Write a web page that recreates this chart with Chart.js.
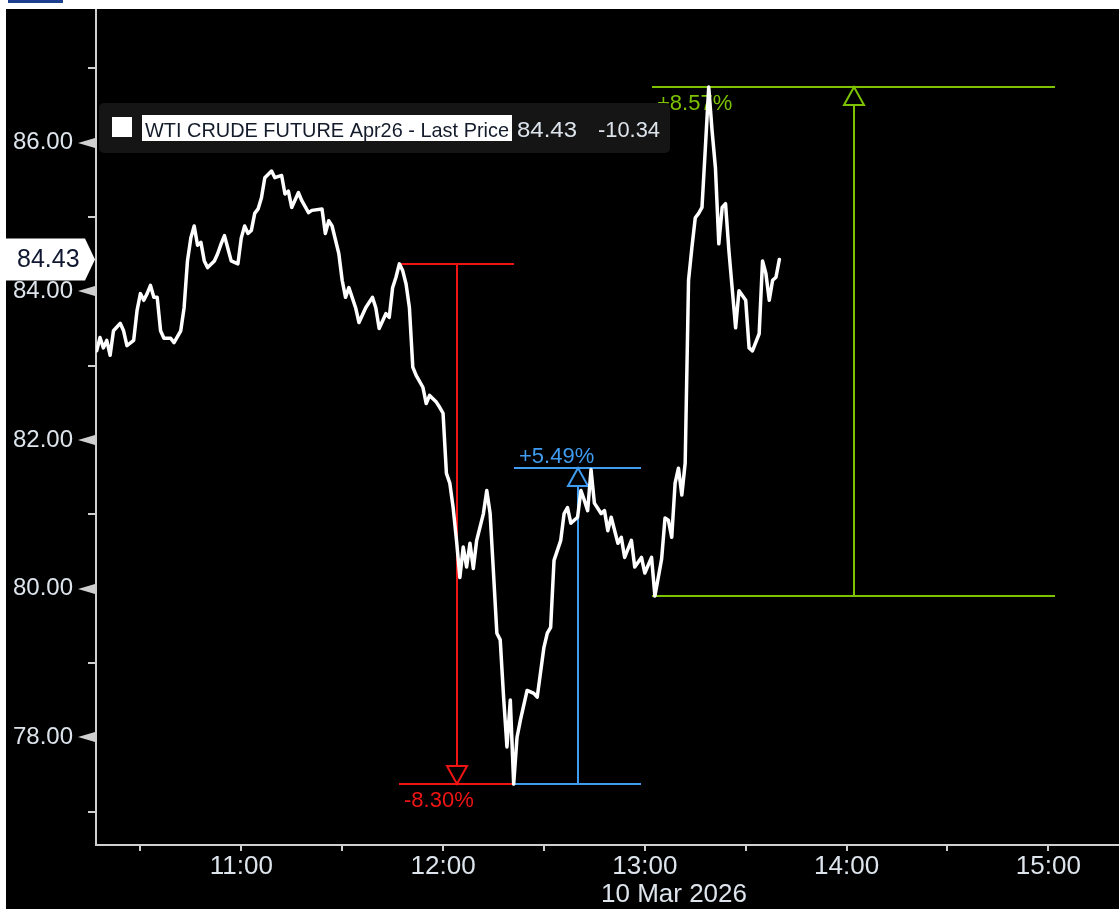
<!DOCTYPE html>
<html><head><meta charset="utf-8">
<script src="https://cdn.jsdelivr.net/npm/chart.js@4/dist/chart.umd.min.js"></script>
<style>
html,body{margin:0;padding:0;background:#ffffff;width:1119px;height:909px;overflow:hidden}
#tab{position:absolute;left:8px;top:0;width:55px;height:3px;background:#1d3f8f}
#wrap{position:absolute;left:6px;top:9px;width:1113px;height:900px;background:#000}
canvas{display:block}
</style></head><body>
<div id="tab"></div>
<div id="wrap"><canvas id="c" width="1113" height="900"></canvas></div>
<script>
// ---- data ----
const seriesName = 'WTI CRUDE FUTURE Apr26 - Last Price';
const lastPrice = 84.43;
const netChange = -10.34;
const dateLabel = '10 Mar 2026';

const times = [
'10:17','10:18','10:19','10:20','10:21','10:22','10:24','10:25','10:26','10:28','10:29','10:30','10:31','10:32','10:33','10:34','10:35','10:36','10:37','10:39','10:40','10:42','10:43','10:44','10:45','10:46','10:47','10:48','10:49','10:50','10:52','10:53','10:54','10:55','10:56','10:57','10:59',
'11:00','11:01','11:02','11:03','11:04','11:05','11:06','11:07','11:09','11:10','11:12','11:13','11:14','11:15','11:17','11:18','11:20','11:21','11:24','11:25','11:26','11:27','11:29','11:30','11:31','11:32','11:34','11:35','11:37','11:39','11:40','11:41','11:43','11:44','11:45','11:46','11:47','11:48','11:49','11:50','11:51','11:52','11:54','11:55','11:56','11:58','11:59',
'12:00','12:01','12:02','12:03','12:04','12:05','12:06','12:07','12:08','12:09','12:10','12:12','12:13','12:14','12:15','12:16','12:17','12:18','12:19','12:20','12:21','12:22','12:23','12:25','12:27','12:28','12:30','12:31','12:32','12:33','12:35','12:36','12:37','12:38','12:40','12:41','12:42','12:43','12:44','12:45','12:47','12:48','12:49','12:50','12:52','12:53','12:54','12:56','12:57','12:59',
'13:00','13:02','13:03','13:05','13:06','13:07','13:08','13:09','13:10','13:11','13:12','13:13','13:14','13:15','13:16','13:17','13:18','13:19','13:20','13:21','13:22','13:23','13:24','13:25','13:27','13:28','13:30','13:31','13:32','13:34','13:35','13:36','13:37','13:38','13:39','13:40'
];
const prices = [
83.20,83.38,83.24,83.34,83.14,83.47,83.57,83.47,83.27,83.34,83.74,83.97,83.88,83.97,84.08,83.92,83.92,83.47,83.37,83.37,83.31,83.47,83.78,84.41,84.72,84.88,84.62,84.66,84.41,84.32,84.41,84.51,84.64,84.75,84.58,84.41,84.37,
84.72,84.88,84.78,84.82,85.05,85.11,85.26,85.53,85.62,85.53,85.56,85.31,85.35,85.13,85.33,85.22,85.06,85.09,85.11,84.78,84.95,84.88,84.51,84.15,83.92,84.05,83.78,83.58,83.78,83.92,83.78,83.50,83.70,83.65,84.05,84.19,84.37,84.28,84.10,83.78,82.98,82.87,82.71,82.49,82.60,82.51,82.44,
82.36,81.55,81.42,81.09,80.65,80.15,80.56,80.29,80.61,80.27,80.65,81.01,81.32,81.01,80.21,79.40,79.31,78.54,77.87,78.50,77.37,78.00,78.23,78.63,78.59,78.54,79.21,79.40,79.48,80.38,80.65,81.01,81.09,80.88,80.96,81.32,81.19,81.05,81.60,81.15,81.01,81.05,80.78,80.96,80.61,80.69,80.42,80.65,80.29,80.42,
80.21,80.42,79.90,80.40,80.95,80.92,80.69,81.42,81.62,81.26,81.69,84.15,84.59,84.99,85.05,85.13,85.93,86.75,86.16,85.66,84.64,85.13,85.18,84.55,83.51,84.01,83.88,83.24,83.20,83.43,84.41,84.24,83.88,84.15,84.19,84.43
];

const yTickValues = [77,78,79,80,81,82,83,84,85,86,87];
const xTickTimes = ['10:30','11:00','11:30','12:00','12:30','13:00','13:30','14:00','14:30','15:00'];
const xRange = [616.8, 921.0];   // minutes after midnight
const yRange = [76.55, 87.80];

// measurement tools (start/end time, from/to price, label)
const measureLabels = ['-8.30%', '+5.49%', '+8.57%'];
const measureStart  = ['11:47', '12:21', '13:02'];
const measureEnd    = ['12:21', '12:59', '15:02'];
const measureFrom   = [84.37, 77.37, 79.90];
const measureTo     = [77.37, 81.62, 86.75];

// ---- helpers ----
const toMin = s => { const p = s.split(':').map(Number); return p[0] * 60 + p[1]; };
const fmtTime = v => Math.floor(v / 60) + ':' + String(Math.round(v % 60)).padStart(2, '0');

const FONT = '"Liberation Sans", Arial, sans-serif';
const LABEL_COLOR = '#dde4ec';
const AXIS_COLOR = '#cfcfcf';
const measureColors = ['#f01414', '#3f9cf0', '#7cc200'];
const measureLabelPos = ['below-to', 'above-to', 'below-to'];

function fitText(ctx, text, x, y, w, size, color) {
  ctx.save();
  ctx.font = size + 'px ' + FONT;
  ctx.textBaseline = 'alphabetic';
  ctx.textAlign = 'left';
  const m = ctx.measureText(text).width;
  ctx.translate(x, y);
  ctx.scale(w / m, 1);
  ctx.fillStyle = color;
  ctx.fillText(text, 0, 0);
  ctx.restore();
}

const decor = {
  id: 'decor',
  beforeDatasetsDraw(chart) {
    const ctx = chart.ctx, xs = chart.scales.x, ys = chart.scales.y;
    ctx.save();
    for (let i = 0; i < measureLabels.length; i++) {
      const col = measureColors[i];
      const x1 = Math.round(xs.getPixelForValue(toMin(measureStart[i])));
      const x2 = Math.round(xs.getPixelForValue(toMin(measureEnd[i])));
      const xm = Math.round((x1 + x2) / 2);
      const yF = Math.round(ys.getPixelForValue(measureFrom[i]));
      const yT = Math.round(ys.getPixelForValue(measureTo[i]));
      const dir = yT > yF ? 1 : -1;
      const th = 18, tw = 10;
      ctx.strokeStyle = col; ctx.lineWidth = 2;
      ctx.beginPath();
      ctx.moveTo(x1, yF); ctx.lineTo(x2, yF);
      ctx.moveTo(x1, yT); ctx.lineTo(x2, yT);
      ctx.moveTo(xm, yF); ctx.lineTo(xm, yT - dir * th);
      ctx.stroke();
      ctx.beginPath();
      ctx.moveTo(xm, yT);
      ctx.lineTo(xm - tw, yT - dir * th);
      ctx.lineTo(xm + tw, yT - dir * th);
      ctx.closePath();
      ctx.stroke();
      ctx.fillStyle = col;
      ctx.font = '22px ' + FONT;
      ctx.textAlign = 'left';
      ctx.textBaseline = 'alphabetic';
      if (measureLabelPos[i] === 'above-to') {
        ctx.fillText(measureLabels[i], x1 + 5, yT - 5);
      } else {
        ctx.fillText(measureLabels[i], x1 + 5, yT + 23);
      }
    }
    ctx.restore();
  },
  afterDraw(chart) {
    const ctx = chart.ctx, ys = chart.scales.y;
    const axX = chart.chartArea.left;
    ctx.save();
    // y-axis tick marks: arrows at labelled values, short lines in between
    ys.ticks.forEach(t => {
      const y = Math.round(ys.getPixelForValue(t.value));
      ctx.fillStyle = AXIS_COLOR; ctx.strokeStyle = AXIS_COLOR;
      if (t.value % 2 === 0) {
        ctx.beginPath();
        ctx.moveTo(axX - 18, y);
        ctx.lineTo(axX - 1, y - 5);
        ctx.lineTo(axX - 1, y + 5);
        ctx.closePath();
        ctx.fill();
      } else {
        ctx.lineWidth = 2;
        ctx.beginPath();
        ctx.moveTo(axX - 8, y); ctx.lineTo(axX, y);
        ctx.stroke();
      }
    });

    // last price tag
    const yl = ys.getPixelForValue(lastPrice);
    ctx.fillStyle = '#ffffff';
    ctx.beginPath();
    ctx.moveTo(0, yl - 21);
    ctx.lineTo(79, yl - 21);
    ctx.lineTo(89, yl);
    ctx.lineTo(79, yl + 21);
    ctx.lineTo(0, yl + 21);
    ctx.closePath();
    ctx.fill();
    ctx.fillStyle = '#0f1830';
    ctx.font = '25px ' + FONT;
    ctx.textBaseline = 'middle';
    ctx.textAlign = 'left';
    ctx.fillText(lastPrice.toFixed(2), 11, yl + 1);

    // legend box
    ctx.fillStyle = '#151515';
    ctx.beginPath();
    ctx.roundRect(93, 94, 571, 50, 5);
    ctx.fill();
    ctx.fillStyle = '#ffffff';
    ctx.fillRect(106, 108, 20, 20);
    ctx.fillRect(136, 106, 370, 26);
    fitText(ctx, seriesName, 139, 128, 364, 21, '#141c2c');
    fitText(ctx, lastPrice.toFixed(2), 511, 128, 60, 22, LABEL_COLOR);
    fitText(ctx, netChange.toFixed(2), 592, 128, 62, 22, LABEL_COLOR);

    // date under the time axis
    ctx.fillStyle = LABEL_COLOR;
    ctx.font = '26px ' + FONT;
    ctx.textAlign = 'center';
    ctx.textBaseline = 'alphabetic';
    ctx.fillText(dateLabel, 668, 893);
    ctx.restore();
  }
};

new Chart(document.getElementById('c'), {
  type: 'line',
  data: {
    datasets: [{
      label: seriesName,
      data: times.map((t, i) => ({ x: toMin(t), y: prices[i] })),
      borderColor: '#ffffff',
      borderWidth: 3.5,
      pointRadius: 0,
      tension: 0,
      borderJoinStyle: 'round',
      borderCapStyle: 'round'
    }]
  },
  options: {
    responsive: false,
    animation: false,
    devicePixelRatio: 1,
    layout: { padding: 0 },
    plugins: { legend: { display: false }, tooltip: { enabled: false } },
    scales: {
      x: {
        type: 'linear',
        min: xRange[0], max: xRange[1],
        afterBuildTicks: s => { s.ticks = xTickTimes.map(t => ({ value: toMin(t) })); },
        afterFit: s => { s.height = 64; s.paddingLeft = 0; s.paddingRight = 0; },
        ticks: {
          autoSkip: false, maxRotation: 0, padding: 0,
          color: LABEL_COLOR, font: { family: 'Liberation Sans', size: 26 },
          callback: v => (v % 60 === 0 ? fmtTime(v) : '')
        },
        grid: { display: true, drawOnChartArea: false, drawTicks: true, tickLength: 6, tickColor: AXIS_COLOR, lineWidth: 2 },
        border: { display: true, color: AXIS_COLOR, width: 2 }
      },
      y: {
        type: 'linear',
        min: yRange[0], max: yRange[1],
        afterBuildTicks: s => { s.ticks = yTickValues.map(v => ({ value: v })); },
        afterFit: s => { s.width = 90; s.paddingTop = 0; s.paddingBottom = 0; },
        ticks: {
          autoSkip: false, padding: 23,
          color: LABEL_COLOR, font: { family: 'Liberation Sans', size: 24 },
          callback: v => (v % 2 === 0 ? v.toFixed(2) : '')
        },
        grid: { display: true, drawOnChartArea: false, drawTicks: false },
        border: { display: true, color: AXIS_COLOR, width: 2 }
      }
    }
  },
  plugins: [decor]
});
</script>
</body></html>
